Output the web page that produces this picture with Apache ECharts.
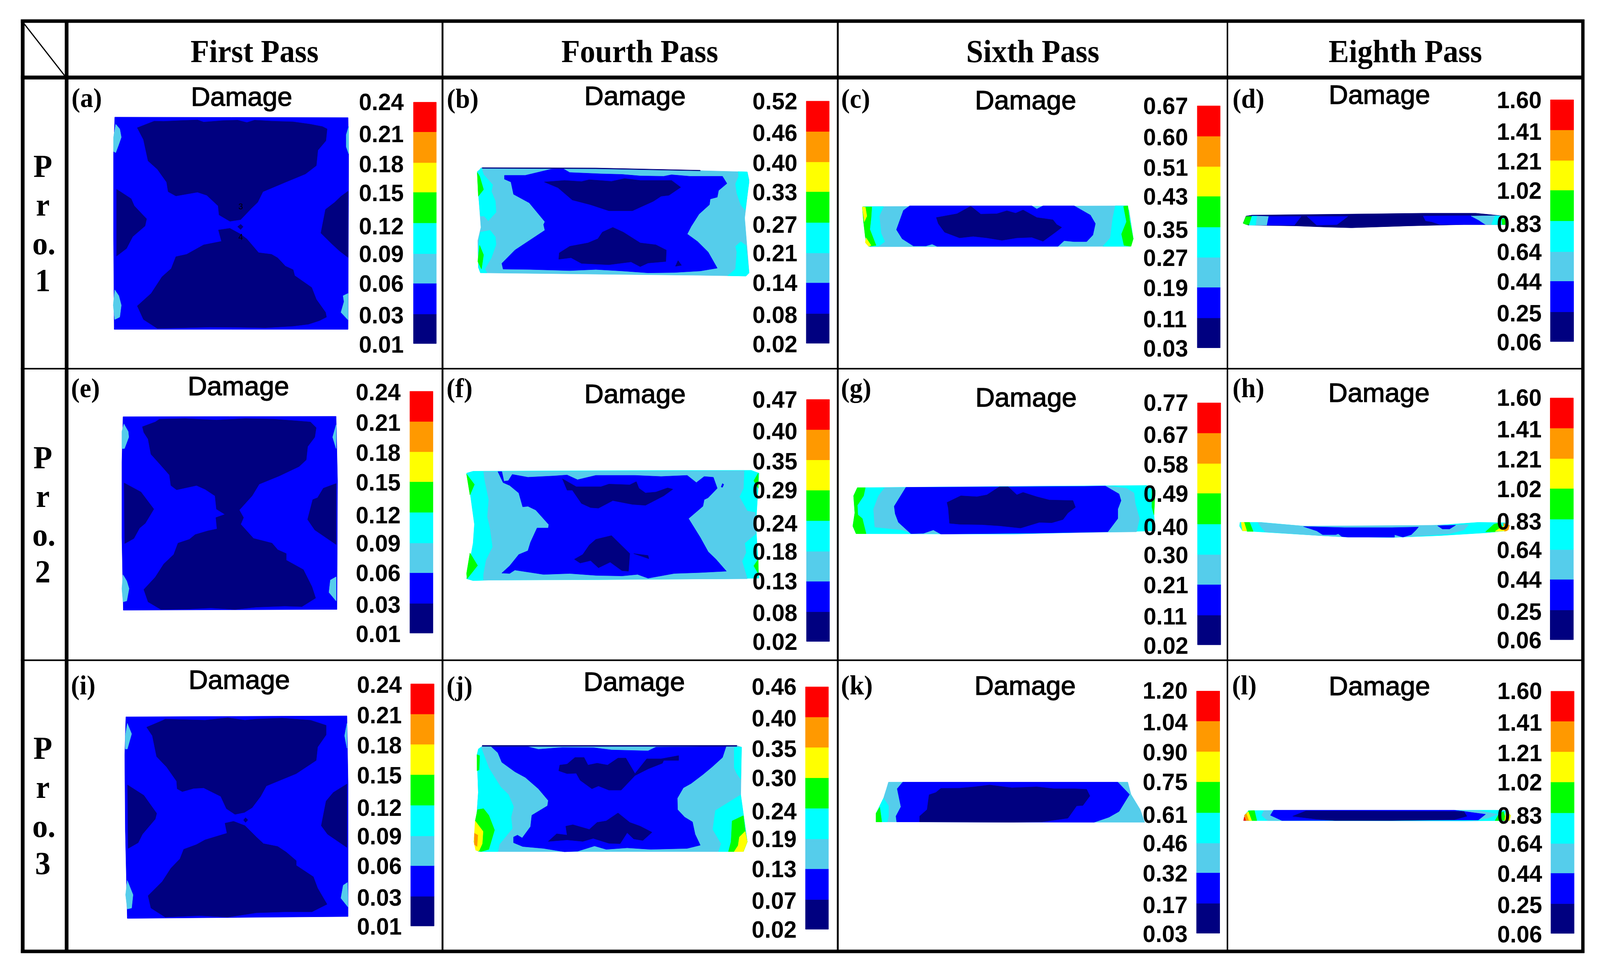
<!DOCTYPE html>
<html>
<head>
<meta charset="utf-8">
<title>Damage contours</title>
<script src="https://cdn.jsdelivr.net/npm/echarts@6/dist/echarts.min.js"></script>
<style>
html, body { margin: 0; padding: 0; background: #fff; overflow: hidden; }
#chart { width: 100vw; height: 100vh; }
</style>
</head>
<body>
<div id="chart"></div>
<script>
// contour band colours, lowest damage first
const bandColors = ["#000080", "#0000ff", "#55cdeb", "#00ffff", "#00ff00", "#ffff00", "#ff9900", "#ff0000"];
const NAVY = 0, BLUE = 1, LIGHT = 2, CYAN = 3, GREEN = 4, YELLOW = 5, ORANGE = 6, RED = 7;

const passNames = ["First Pass", "Fourth Pass", "Sixth Pass", "Eighth Pass"];
const rowNames = [["P", "r", "o.", "1"], ["P", "r", "o.", "2"], ["P", "r", "o.", "3"]];
const panelLetters = ["(a)", "(b)", "(c)", "(d)", "(e)", "(f)", "(g)", "(h)", "(i)", "(j)", "(k)", "(l)"];

// legend tick labels, top to bottom
const ticksA = ["0.24", "0.21", "0.18", "0.15", "0.12", "0.09", "0.06", "0.03", "0.01"];
const ticksB = ["0.52", "0.46", "0.40", "0.33", "0.27", "0.21", "0.14", "0.08", "0.02"];
const ticksC = ["0.67", "0.60", "0.51", "0.43", "0.35", "0.27", "0.19", "0.11", "0.03"];
const ticksD = ["1.60", "1.41", "1.21", "1.02", "0.83", "0.64", "0.44", "0.25", "0.06"];
const ticksE = ticksA;
const ticksF = ["0.47", "0.40", "0.35", "0.29", "0.24", "0.18", "0.13", "0.08", "0.02"];
const ticksG = ["0.77", "0.67", "0.58", "0.49", "0.40", "0.30", "0.21", "0.11", "0.02"];
const ticksH = ticksD;
const ticksI = ticksA;
const ticksJ = ["0.46", "0.40", "0.35", "0.30", "0.24", "0.19", "0.13", "0.07", "0.02"];
const ticksK = ["1.20", "1.04", "0.90", "0.75", "0.61", "0.46", "0.32", "0.17", "0.03"];
const ticksL = ticksD;

// contour regions: [band, [x, y, x, y, ...]] painted in order, in each panel's own axis units (0-1568)
const regionsA = [
	[BLUE, [372,495, 1128,497, 1130,650, 1128,1392, 370,1392, 368,1000, 368,650]],
	[NAVY, [445,540, 500,512, 530,513, 580,510, 640,507, 660,516, 720,510, 770,508, 800,518, 825,508, 880,512, 950,515, 1005,525, 1045,535, 1060,545, 1056,595, 1030,635, 1025,700, 990,735, 925,770, 852,810, 835,855, 815,880, 780,928, 745,935, 710,908, 707,870, 670,825, 640,812, 570,828, 545,810, 540,770, 510,715, 480,680, 465,590]],
	[NAVY, [708,972, 745,965, 780,990, 800,1010, 838,1068, 880,1075, 900,1090, 925,1125, 950,1140, 955,1165, 1010,1215, 1025,1265, 1055,1320, 1058,1340, 1035,1355, 1000,1370, 950,1378, 860,1385, 780,1383, 680,1382, 600,1385, 510,1388, 465,1350, 445,1293, 490,1240, 525,1170, 555,1135, 570,1085, 605,1075, 660,1035, 718,1020]],
	[NAVY, [378,800, 425,840, 435,870, 475,925, 470,955, 430,1000, 410,1050, 378,1082]],
	[NAVY, [1128,808, 1105,830, 1085,855, 1055,885, 1040,985, 1075,1030, 1100,1060, 1128,1088]],
	[NAVY, [770,958, 780,948, 788,958, 780,970]],
	[LIGHT, [375,525, 388,545, 393,580, 385,610, 375,645, 368,640, 368,580]],
	[LIGHT, [1130,535, 1122,570, 1122,620, 1130,650]],
	[LIGHT, [372,1225, 385,1250, 393,1290, 388,1340, 372,1350, 367,1290]],
	[LIGHT, [1128,1240, 1112,1250, 1115,1275, 1105,1320, 1128,1352]],
];
const regionsB = [
	[LIGHT, [160,515, 600,518, 1000,530, 1180,537, 1187,580, 1170,780, 1187,1070, 1175,1087, 1000,1083, 600,1077, 158,1070, 150,1040, 148,900, 160,830, 150,640, 146,545]],
	[CYAN, [146,535, 162,517, 170,550, 205,605, 200,640, 215,690, 218,750, 188,795, 172,770, 158,770, 150,650]],
	[CYAN, [158,855, 195,845, 215,880, 218,920, 200,990, 175,1050, 183,1070, 158,1070, 150,1040, 150,930]],
	[CYAN, [1145,535, 1180,537, 1187,590, 1172,740, 1155,710, 1140,650, 1135,600, 1147,560]],
	[CYAN, [1155,905, 1175,925, 1187,1070, 1175,1087, 1105,1085, 1135,1050, 1140,960, 1135,930]],
	[GREEN, [146,540, 155,560, 170,630, 150,665]],
	[GREEN, [155,925, 170,975, 162,1050, 148,1010]],
	[BLUE, [250,555, 330,555, 430,522, 475,520, 500,540, 620,547, 700,550, 770,558, 860,560, 890,552, 960,560, 1085,560, 1102,598, 1070,635, 1065,670, 1038,680, 1035,710, 995,760, 965,825, 950,865, 990,905, 1030,960, 1065,1045, 1000,1060, 900,1068, 800,1070, 700,1060, 600,1052, 500,1058, 350,1052, 245,1050, 240,1020, 290,950, 405,845, 400,815, 405,800, 345,700, 285,655, 275,590, 250,575]],
	[NAVY, [403,590, 480,582, 545,588, 575,578, 660,587, 710,572, 770,582, 890,582, 925,618, 880,660, 850,665, 820,692, 775,720, 740,742, 650,742, 580,710, 510,685, 455,620]],
	[NAVY, [665,830, 705,855, 770,912, 830,922, 870,950, 868,1010, 800,1018, 770,1037, 735,1012, 650,1027, 545,1020, 505,990, 458,998, 460,965, 500,930, 570,912, 608,890, 625,855]],
	[NAVY, [915,1005, 928,1030, 905,1035]],
	[NAVY, [165,514, 600,516, 1000,528, 1000,531, 600,520, 165,518]],
];
const regionsC = [
	[LIGHT, [102,720, 1160,716, 1170,740, 1187,890, 1175,930, 130,932, 115,915, 105,800]],
	[CYAN, [105,720, 185,720, 168,770, 175,860, 190,905, 165,930, 125,930, 105,800]],
	[GREEN, [100,722, 138,722, 135,780, 130,840, 155,925, 125,930, 112,880, 105,800]],
	[YELLOW, [100,722, 112,722, 118,770, 108,800]],
	[YELLOW, [115,885, 135,925, 125,930, 112,910]],
	[CYAN, [1115,716, 1165,716, 1175,790, 1187,890, 1175,930, 1065,930, 1095,885, 1105,780]],
	[GREEN, [1148,718, 1165,716, 1172,790, 1187,890, 1178,930, 1150,925, 1140,865, 1160,800]],
	[BLUE, [290,716, 780,716, 800,733, 825,716, 950,716, 1015,765, 1035,810, 1025,870, 1000,905, 950,905, 910,900, 885,930, 400,930, 380,918, 355,928, 305,928, 260,890, 237,842, 265,740]],
	[NAVY, [397,778, 480,758, 535,718, 575,760, 640,758, 680,742, 715,755, 745,738, 800,778, 865,790, 880,815, 900,830, 870,860, 825,903, 780,882, 720,885, 660,898, 600,885, 545,877, 490,885, 430,855, 405,810]],
];
const regionsD = [
	[NAVY, [78,808, 90,770, 115,765, 500,760, 830,755, 1050,755, 1130,765, 1170,770, 1175,815, 1000,815, 770,822, 530,832, 420,828, 300,822, 100,818]],
	[LIGHT, [135,770, 185,772, 178,818, 130,818]],
	[GREEN, [78,808, 90,772, 115,772, 103,815, 90,815]],
	[CYAN, [115,770, 135,770, 130,818, 103,818]],
	[BLUE, [185,772, 320,772, 292,818, 178,818]],
	[BLUE, [345,772, 515,772, 470,815, 385,818]],
	[BLUE, [830,770, 1030,768, 1060,790, 1090,815, 900,815, 865,800, 840,795]],
	[LIGHT, [1030,770, 1130,768, 1140,815, 1090,815, 1060,790]],
	[CYAN, [1130,768, 1175,770, 1175,815, 1115,815]],
	[GREEN, [1158,785, 1172,785, 1172,815, 1160,815]],
];
const regionsE = [
	[BLUE, [432,262, 1180,260, 1185,600, 1183,1280, 433,1284, 428,900, 428,500]],
	[NAVY, [500,315, 545,290, 560,275, 650,272, 760,280, 860,272, 960,275, 1050,285, 1090,290, 1110,320, 1105,370, 1080,420, 1075,490, 1050,525, 980,575, 910,618, 885,680, 840,755, 855,795, 845,830, 890,905, 955,930, 975,965, 1005,985, 1005,1020, 1065,1070, 1095,1160, 1108,1220, 1060,1265, 1000,1262, 900,1268, 825,1280, 740,1272, 660,1278, 565,1280, 520,1240, 505,1175, 545,1110, 575,1040, 610,990, 625,930, 665,910, 685,885, 730,865, 762,855, 758,795, 790,778, 760,750, 755,680, 720,645, 690,625, 620,648, 600,625, 595,570, 560,510, 530,460, 520,380, 505,345]],
	[NAVY, [436,612, 495,660, 540,750, 510,825, 490,850, 470,905, 438,932]],
	[NAVY, [1180,615, 1135,640, 1115,690, 1098,700, 1080,805, 1105,860, 1180,937]],
	[LIGHT, [435,300, 450,340, 452,370, 437,430, 428,430, 428,340]],
	[LIGHT, [1180,305, 1168,370, 1180,430]],
	[LIGHT, [432,1097, 445,1130, 453,1170, 445,1235, 432,1240, 428,1170]],
	[LIGHT, [1180,1108, 1160,1125, 1155,1190, 1180,1235]],
];
const regionsF = [
	[CYAN, [105,560, 130,550, 600,547, 1195,545, 1225,560, 1213,830, 1225,1115, 1100,1118, 600,1123, 200,1125, 130,1128, 105,1118, 130,930, 135,830, 120,680]],
	[LIGHT, [170,552, 1168,548, 1165,640, 1150,685, 1180,760, 1210,768, 1213,880, 1170,930, 1175,980, 1160,1025, 1180,1118, 170,1125, 170,1095, 180,1020, 205,950, 195,850, 185,790, 190,700, 175,600]],
	[GREEN, [105,565, 135,620, 118,675]],
	[GREEN, [118,982, 147,1048, 107,1118, 105,1090]],
	[GREEN, [1222,560, 1205,600, 1222,640]],
	[GREEN, [1222,1015, 1205,1050, 1222,1090]],
	[BLUE, [280,567, 340,582, 440,575, 490,570, 530,595, 600,572, 750,572, 850,578, 950,572, 985,610, 1015,578, 1050,582, 1065,640, 1030,690, 1015,700, 1010,735, 955,800, 1000,900, 1030,975, 1060,1015, 1100,1078, 1000,1085, 900,1090, 800,1115, 760,1095, 700,1103, 600,1100, 500,1090, 400,1095, 290,1072, 270,1090, 240,1088, 270,1050, 305,990, 340,970, 350,925, 375,850, 418,850, 420,832, 370,755, 340,735, 320,738, 305,665, 270,625, 245,610, 225,552, 240,552, 248,603, 265,600]],
	[NAVY, [472,590, 525,632, 620,632, 650,618, 730,622, 755,605, 765,640, 790,665, 830,660, 875,638, 895,645, 860,680, 790,730, 740,725, 665,705, 610,745, 580,742, 545,720, 510,650, 490,650]],
	[NAVY, [600,910, 660,890, 730,985, 725,1078, 700,1075, 655,1030, 610,1060, 580,1022, 540,1035, 518,1015, 550,990, 575,940]],
	[NAVY, [745,985, 800,995, 803,1012]],
	[BLUE, [1085,615, 1090,620, 1085,635, 1080,633]],
];
const regionsG = [
	[CYAN, [80,637, 700,630, 1240,625, 1275,650, 1270,780, 1275,865, 1000,873, 700,882, 75,880, 62,840, 70,770, 65,680]],
	[GREEN, [65,680, 80,637, 112,637, 105,680, 80,730, 82,780, 100,800, 115,880, 75,880, 62,840, 70,770]],
	[GREEN, [1262,640, 1275,650, 1270,780, 1262,740]],
	[LIGHT, [190,637, 1085,628, 1160,640, 1190,665, 1195,720, 1212,800, 1200,870, 1000,873, 300,880, 260,860, 150,845, 145,750, 165,680]],
	[BLUE, [275,635, 990,630, 1075,628, 1130,670, 1138,705, 1125,750, 1125,800, 1085,870, 800,877, 415,882, 385,860, 345,878, 295,880, 245,820, 232,775, 228,735]],
	[NAVY, [440,715, 495,680, 560,685, 600,675, 650,632, 685,632, 720,675, 745,662, 800,685, 850,702, 945,705, 955,740, 925,770, 905,805, 860,822, 810,820, 735,850, 650,838, 580,832, 490,830, 450,825, 445,745]],
];
const regionsH = [
	[CYAN, [65,820, 150,820, 330,840, 500,848, 700,848, 930,832, 1060,820, 1170,822, 1190,840, 1175,865, 1095,875, 900,890, 700,900, 500,897, 400,890, 120,868, 75,865, 63,840]],
	[LIGHT, [140,820, 330,840, 930,835, 1020,832, 1000,860, 940,880, 800,893, 700,900, 500,897, 400,890, 170,870, 150,840]],
	[BLUE, [330,842, 500,848, 700,848, 810,845, 800,860, 780,885, 745,898, 710,885, 710,898, 515,898, 490,895, 475,880, 465,885, 410,885, 385,865]],
	[BLUE, [890,838, 965,835, 940,855, 910,855]],
	[GREEN, [80,820, 105,820, 120,868, 95,868]],
	[YELLOW, [70,820, 82,820, 93,865, 75,865]],
	[GREEN, [1090,870, 1125,830, 1150,822, 1165,850, 1130,870]],
	[YELLOW, [1130,868, 1150,850, 1170,838, 1180,865]],
	[ORANGE, [1165,825, 1190,835, 1185,860, 1170,868]],
];
const regionsI = [
	[BLUE, [442,300, 1218,295, 1222,650, 1222,1355, 447,1365, 440,900, 438,500]],
	[NAVY, [515,355, 570,320, 580,312, 720,318, 800,305, 860,318, 900,312, 990,307, 1090,318, 1145,345, 1145,395, 1115,460, 1110,530, 1040,600, 935,665, 915,720, 885,780, 858,805, 825,815, 795,785, 775,720, 715,675, 680,678, 640,695, 622,680, 620,640, 585,565, 550,510, 535,400]],
	[NAVY, [790,862, 820,852, 860,875, 900,935, 925,970, 975,985, 1005,1015, 1040,1060, 1040,1085, 1100,1145, 1115,1205, 1148,1290, 1095,1330, 1000,1330, 900,1335, 800,1358, 700,1350, 580,1358, 530,1310, 520,1245, 570,1170, 600,1100, 632,1050, 645,1000, 690,975, 720,950, 797,915]],
	[NAVY, [855,845, 862,833, 870,845, 862,858]],
	[NAVY, [448,660, 505,715, 550,810, 545,840, 500,920, 485,965, 450,995]],
	[NAVY, [1218,655, 1170,700, 1145,745, 1128,875, 1150,920, 1218,990]],
	[LIGHT, [447,335, 462,390, 447,470, 440,470, 440,400]],
	[LIGHT, [1218,335, 1210,400, 1218,465]],
	[LIGHT, [447,1165, 467,1240, 462,1310, 447,1315, 441,1240]],
	[LIGHT, [1220,1175, 1205,1190, 1197,1258, 1222,1305]],
];
const regionsJ = [
	[LIGHT, [165,452, 1140,452, 1158,460, 1155,720, 1180,960, 1165,1012, 150,1012, 133,960, 145,800, 150,700, 145,500]],
	[CYAN, [150,470, 160,460, 190,570, 235,670, 265,710, 285,775, 275,830, 280,890, 230,975, 225,1012, 150,1012, 133,960, 145,800, 150,700, 145,500]],
	[GREEN, [145,500, 155,505, 153,580, 145,585]],
	[GREEN, [147,790, 170,785, 190,820, 212,898, 190,1000, 160,1012, 145,1005, 138,850]],
	[YELLOW, [138,850, 168,905, 165,970, 152,1010, 140,1005, 133,960]],
	[ORANGE, [135,915, 148,925, 145,985, 135,975]],
	[CYAN, [1130,462, 1158,460, 1155,630, 1140,600, 1130,570]],
	[CYAN, [1155,712, 1180,960, 1165,1012, 1070,1012, 1080,970, 1048,895, 1058,795]],
	[GREEN, [1165,822, 1172,900, 1180,960, 1165,1012, 1108,1012, 1118,960, 1122,850]],
	[YELLOW, [1172,905, 1180,960, 1165,1012, 1130,1012, 1145,980, 1150,935]],
	[BLUE, [200,458, 340,458, 380,472, 470,462, 590,463, 660,475, 800,480, 830,460, 990,458, 1100,452, 1085,515, 1045,565, 1010,605, 965,652, 935,675, 912,730, 913,790, 940,830, 970,855, 980,920, 1000,978, 950,995, 810,1000, 720,992, 640,1000, 595,982, 530,1010, 480,1013, 400,995, 320,985, 285,965, 285,935, 300,925, 318,940, 350,880, 355,820, 415,770, 418,742, 380,680, 330,620, 290,590, 240,540, 225,490]],
	[NAVY, [458,585, 462,555, 490,550, 520,515, 555,515, 570,555, 605,545, 645,555, 685,518, 715,518, 750,600, 795,522, 850,522, 917,505, 917,530, 860,530, 855,545, 800,575, 750,610, 697,687, 650,687, 610,665, 585,680, 540,635, 525,598, 490,600]],
	[NAVY, [685,808, 730,858, 770,878, 815,910, 780,953, 745,945, 720,912, 693,970, 650,968, 590,942, 550,958, 490,950, 418,958, 450,918, 490,925, 485,878, 512,870, 575,895, 605,858, 640,850]],
	[NAVY, [165,451, 1140,451, 1140,456, 165,456]],
];
const regionsK = [
	[LIGHT, [205,645, 1165,645, 1178,710, 1215,790, 1233,857, 155,855, 155,810, 185,730, 197,680]],
	[CYAN, [185,730, 205,770, 205,825, 200,855, 175,855, 155,810]],
	[GREEN, [170,778, 178,855, 155,855, 155,810]],
	[BLUE, [262,645, 1125,645, 1172,710, 1130,800, 1090,830, 1030,857, 238,855, 235,825, 255,775, 240,680]],
	[NAVY, [415,678, 490,677, 550,670, 610,660, 700,675, 800,670, 870,680, 950,680, 1000,683, 1013,718, 985,768, 960,770, 925,835, 820,855, 700,857, 330,855, 330,825, 360,790, 368,712, 395,700]],
];
const regionsL = [
	[CYAN, [80,848, 85,818, 100,795, 1130,793, 1170,795, 1195,820, 1190,848, 1000,850]],
	[RED, [80,848, 83,828, 92,848]],
	[ORANGE, [83,820, 92,810, 108,848, 90,848]],
	[YELLOW, [92,808, 100,800, 118,848, 103,848]],
	[GREEN, [100,797, 125,795, 135,848, 115,848]],
	[LIGHT, [165,795, 205,795, 192,820, 240,848, 180,848, 155,820]],
	[LIGHT, [960,795, 1060,795, 1140,815, 1100,835, 1040,848, 1090,815]],
	[BLUE, [205,793, 960,793, 1090,815, 1060,845, 240,848, 192,820]],
	[NAVY, [340,797, 1000,800, 1012,825, 960,843, 700,848, 460,848, 380,840, 285,825]],
	[GREEN, [1145,815, 1165,800, 1175,848, 1130,848]],
	[YELLOW, [1175,800, 1195,820, 1190,848, 1170,848]],
];
// leftover node numbers visible on the first mesh
const notesA = [["3", 780, 875], ["4", 780, 1003]];

// page layout, in reference pixels
const REF_W = 4299, REF_H = 2499;
const tableH = [[56, 4257, 54, 9], [56, 4257, 198.5, 10], [56, 4257, 944, 4], [56, 4257, 1690.5, 4], [56, 4257, 2436, 9]];
const tableV = [[61, 50, 2440, 10], [179, 50, 2440, 10], [1189, 50, 2440, 5], [2251, 50, 2440, 5], [3298, 50, 2440, 4], [4253, 50, 2440, 9]];
const tableDiag = [65, 61, 174, 194];
const headerX = [684, 1719, 2775, 3776];
const rowBaselines = [[473, 572, 671, 765], [1219, 1318, 1417, 1511], [1963, 2063, 2163, 2258]];

const panels = [
	{ crop: [0, 0, 1300, 950], regions: regionsA, ticks: ticksA, notes: notesA, tickX: 1168, tickY: [430,565,692,815,955,1072,1198,1332,1455], barX: [1340,1414], barY: [432,557,687,812,942,1072,1197,1327,1452], letter: [281,422], title: [783,408] },
	{ crop: [1180, 180, 1100, 760], regions: regionsB, ticks: ticksB, tickX: 1205, tickY: [162,330,488,642,815,965,1122,1290,1445], barX: [1406,1494], barY: [163,323,484,641,804,965,1122,1285,1442], letter: [90,160], title: [750,135] },
	{ crop: [2250, 180, 1050, 760], regions: regionsC, ticks: ticksC, tickX: 1232, tickY: [187,352,512,665,840,990,1148,1313,1468], barX: [1444,1536], barY: [188,348,508,665,828,988,1146,1308,1466], letter: [73,160], title: [755,158] },
	{ crop: [3290, 180, 1009, 760], regions: regionsD, ticks: ticksD, tickX: 1142, tickY: [155,322,480,635,810,958,1115,1283,1435], barX: [1361,1458], barY: [156,315,476,633,795,958,1113,1276,1433], letter: [100,160], title: [647,128] },
	{ crop: [0, 940, 1200, 760], regions: regionsE, ticks: ticksE, tickX: 1254, tickY: [132,292,450,608,782,930,1087,1253,1408], barX: [1439,1520], barY: [128,287,447,605,767,929,1086,1248,1405], letter: [300,122], title: [837,100] },
	{ crop: [1180, 940, 1100, 760], regions: regionsF, ticks: ticksF, tickX: 1205, tickY: [170,337,497,650,825,972,1130,1297,1450], barX: [1407,1495], barY: [171,330,490,650,811,973,1131,1292,1449], letter: [78,122], title: [750,142] },
	{ crop: [2250, 940, 1050, 760], regions: regionsG, ticks: ticksG, tickX: 1233, tickY: [187,355,513,668,842,992,1150,1315,1470], barX: [1445,1538], barY: [189,348,509,666,829,990,1148,1310,1467], letter: [75,122], title: [757,160] },
	{ crop: [3290, 940, 1009, 760], regions: regionsH, ticks: ticksH, tickX: 1142, tickY: [160,328,487,642,815,965,1122,1290,1442], barX: [1360,1457], barY: [163,322,483,641,803,964,1121,1283,1440], letter: [100,122], title: [645,135] },
	{ crop: [0, 1690, 1200, 760], regions: regionsI, ticks: ticksI, tickX: 1258, tickY: [130,290,448,607,780,930,1087,1253,1407], barX: [1442,1524], barY: [126,285,445,605,767,929,1086,1248,1405], letter: [292,145], title: [840,105] },
	{ crop: [1180, 1690, 1100, 760], regions: regionsJ, ticks: ticksJ, tickX: 1202, tickY: [140,307,467,622,797,945,1103,1270,1423], barX: [1403,1491], barY: [142,301,461,622,783,945,1103,1265,1422], letter: [78,148], title: [747,115] },
	{ crop: [2250, 1690, 1050, 760], regions: regionsK, ticks: ticksK, tickX: 1230, tickY: [160,328,487,642,817,967,1125,1292,1445], barX: [1441,1534], barY: [164,322,483,643,806,967,1123,1285,1443], letter: [78,145], title: [753,135] },
	{ crop: [3290, 1690, 1009, 760], regions: regionsL, ticks: ticksL, tickX: 1144, tickY: [162,330,490,645,820,968,1127,1293,1447], barX: [1363,1460], barY: [165,323,484,644,807,969,1125,1287,1444], letter: [83,145], title: [647,137] },
];

const SANS = '"Liberation Sans", Arial, sans-serif';
const SERIF = '"Liberation Serif", "Times New Roman", serif';

const myChart = echarts.init(document.getElementById("chart"));
// the window can be narrower than the reference, so the drawing fills it on both axes
const scaleX = myChart.getWidth() / REF_W;
const scaleY = myChart.getHeight() / REF_H;
const pct = (v, total) => (v / total * 100) + "%";

const grids = [{ left: 0, top: 0, width: "100%", height: "100%" }];
const xAxes = [{ type: "value", gridIndex: 0, min: 0, max: REF_W, show: false }];
const yAxes = [{ type: "value", gridIndex: 0, min: 0, max: REF_H, inverse: true, show: false }];
const series = [];

// one custom series for a list of drawn things, each turned into a graphic element by build()
const addSeries = (axisIndex, items, z, build) => {
	series.push({
		type: "custom",
		coordinateSystem: "cartesian2d",
		xAxisIndex: axisIndex,
		yAxisIndex: axisIndex,
		clip: false,
		silent: true,
		z: z,
		data: items.map((_, i) => [i, 0]),
		renderItem: (params, api) => build(items[params.dataIndex], api),
	});
};

const polygon = (flat, color, api) => {
	const points = [];
	for (let i = 0; i < flat.length; i += 2) {
		points.push(api.coord([flat[i], flat[i + 1]]));
	}
	return { type: "polygon", shape: { points: points }, style: { fill: color, stroke: color, lineWidth: 1 } };
};

const rule = (a, b, width, api) => {
	const p = api.coord(a), q = api.coord(b);
	return { type: "line", shape: { x1: p[0], y1: p[1], x2: q[0], y2: q[1] }, style: { stroke: "#000", lineWidth: width } };
};

const label = (t, api) => {
	const p = api.coord([t.x, t.y]);
	const size = t.size * scaleY;
	const style = {
		text: t.text,
		fill: "#000",
		fontFamily: t.family,
		fontSize: size,
		fontWeight: t.weight || "normal",
		align: t.align || "center",
		verticalAlign: t.valign || "middle",
	};
	if (t.stroke) {
		style.stroke = "#000";
		style.lineWidth = t.stroke;
	}
	// positions were read at cap centre, the renderer anchors at em centre
	const dy = t.capCentred ? 0.07 * size : 0;
	return { type: "text", x: p[0], y: p[1] + dy, scaleX: (t.stretch || 1) * scaleX / scaleY, style: style };
};

// table rules
addSeries(0, tableH, 1, (l, api) => rule([l[0], l[2]], [l[1], l[2]], l[3] * scaleY, api));
addSeries(0, tableV, 1, (l, api) => rule([l[0], l[1]], [l[0], l[2]], l[3] * scaleX, api));
addSeries(0, [tableDiag], 1, (l, api) => rule([l[0], l[1]], [l[2], l[3]], 3, api));

// header row and row names
const headerTexts = passNames.map((name, i) => ({ text: name, x: headerX[i], y: 132, family: SERIF, size: 82, weight: "bold", capCentred: true }));
const rowTexts = [];
rowNames.forEach((chars, r) => {
	chars.forEach((ch, i) => {
		rowTexts.push({ text: ch, x: i === 2 ? 118 : 115, y: rowBaselines[r][i], family: SERIF, size: 83, weight: "bold", valign: "bottom" });
	});
});
addSeries(0, headerTexts.concat(rowTexts), 5, label);

panels.forEach((p, n) => {
	const k = n + 1;
	grids.push({ left: pct(p.crop[0], REF_W), top: pct(p.crop[1], REF_H), width: pct(p.crop[2], REF_W), height: pct(p.crop[3], REF_H) });
	xAxes.push({ type: "value", gridIndex: k, min: 0, max: 1568, show: false });
	yAxes.push({ type: "value", gridIndex: k, min: 0, max: 1568, inverse: true, show: false });

	addSeries(k, p.regions, 2, (r, api) => polygon(r[1], bandColors[r[0]], api));

	// legend bands, red on top
	const bands = bandColors.map((c, i) => [i, p.barY[7 - i], p.barY[8 - i]]);
	addSeries(k, bands, 3, (b, api) => polygon([p.barX[0], b[1], p.barX[1], b[1], p.barX[1], b[2], p.barX[0], b[2]], bandColors[b[0]], api));

	const texts = p.ticks.map((t, i) => ({ text: t, x: p.tickX - 5, y: p.tickY[i], family: SANS, size: 62, weight: "bold", align: "left", capCentred: true }));
	texts.push({ text: "Damage", x: p.title[0], y: p.title[1], family: SANS, size: 68, stretch: 1.06, stroke: 1.5, capCentred: true });
	texts.push({ text: panelLetters[n], x: p.letter[0], y: p.letter[1], family: SERIF, size: 70, weight: "bold" });
	(p.notes || []).forEach((t) => texts.push({ text: t[0], x: t[1], y: t[2], family: SANS, size: 22 }));
	addSeries(k, texts, 6, label);
});

myChart.setOption({
	animation: false,
	backgroundColor: "#fff",
	grid: grids,
	xAxis: xAxes,
	yAxis: yAxes,
	series: series,
});
</script>
</body>
</html>
